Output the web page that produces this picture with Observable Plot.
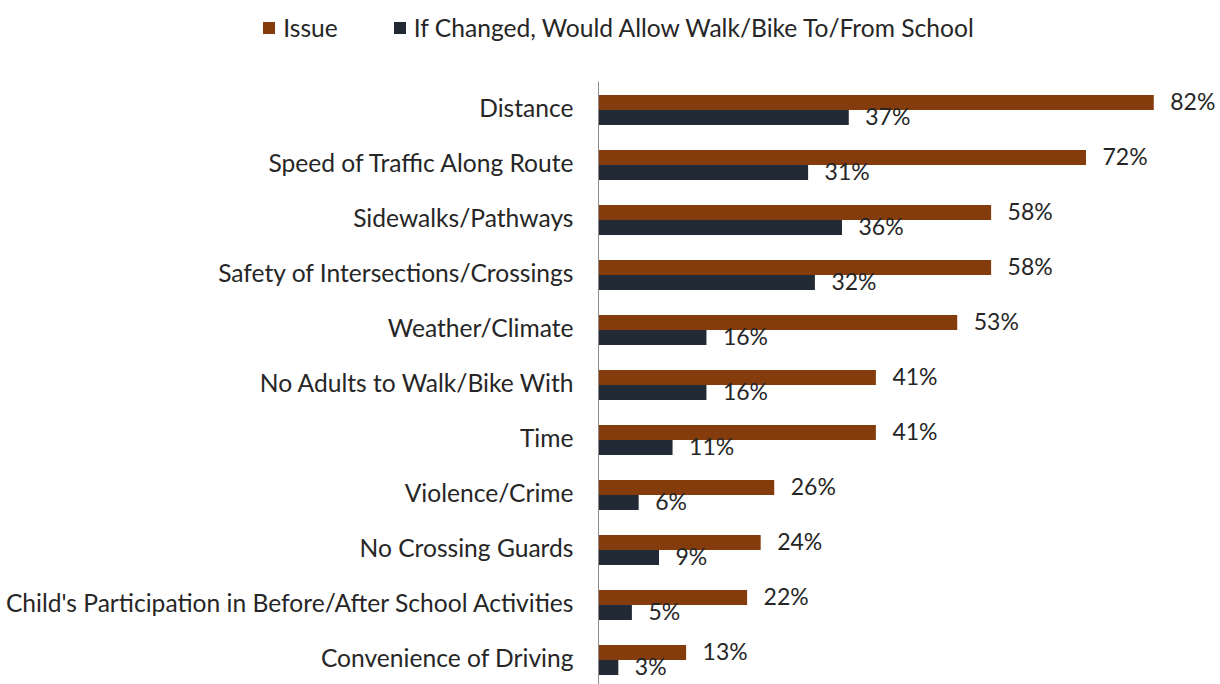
<!DOCTYPE html>
<html>
<head>
<meta charset="utf-8">
<script src="https://cdn.jsdelivr.net/npm/d3@7"></script>
<script src="https://cdn.jsdelivr.net/npm/@observablehq/plot@0.6"></script>
<style>
  html, body { margin: 0; padding: 0; background: #fff; overflow: hidden; }
  body { width: 1220px; height: 684px; font-family: Lato, "Liberation Sans", sans-serif; color: #262626; }
  #legend { height: 55px; display: flex; justify-content: center; align-items: center; font-size: 24.6px; padding-left: 17px; box-sizing: border-box; }
  .item { display: flex; align-items: center; margin: 0 28px; }
  .sw { width: 12px; height: 12px; margin-right: 8px; }
</style>
</head>
<body>
<div id="legend"></div>
<div id="chart"></div>
<script>
const categories = [
  "Distance",
  "Speed of Traffic Along Route",
  "Sidewalks/Pathways",
  "Safety of Intersections/Crossings",
  "Weather/Climate",
  "No Adults to Walk/Bike With",
  "Time",
  "Violence/Crime",
  "No Crossing Guards",
  "Child's Participation in Before/After School Activities",
  "Convenience of Driving"
];
const seriesNames = ["Issue", "If Changed, Would Allow Walk/Bike To/From School"];
const issueValues = [82, 72, 58, 58, 53, 41, 41, 26, 24, 22, 13];
const changedValues = [37, 31, 36, 32, 16, 16, 11, 6, 9, 5, 3];
const colors = ["#843C0C", "#222A35"];

const data = [];
categories.forEach((c, i) => {
  data.push({category: c, series: seriesNames[0], value: issueValues[i]});
  data.push({category: c, series: seriesNames[1], value: changedValues[i]});
});

// legend
const legend = document.getElementById("legend");
seriesNames.forEach((s, i) => {
  const it = document.createElement("div");
  it.className = "item";
  const sw = document.createElement("span");
  sw.className = "sw";
  sw.style.background = colors[i];
  it.appendChild(sw);
  const t = document.createElement("span");
  t.textContent = s;
  it.appendChild(t);
  legend.appendChild(it);
});

const chart = Plot.plot({
  width: 1220,
  height: 634,
  marginTop: 25,
  marginBottom: 0,
  marginLeft: 598,
  marginRight: 12,
  style: {fontFamily: "Lato, 'Liberation Sans', sans-serif", fontSize: "24px", color: "#262626", background: "#fff"},
  x: {domain: [0, 90], axis: null},
  y: {domain: seriesNames, axis: null, padding: 0},
  fy: {domain: categories, paddingInner: 0.44, paddingOuter: 0.22, label: null},
  color: {domain: seriesNames, range: colors},
  marks: [
    Plot.axisFy({anchor: "left", tickSize: 0, tickPadding: 25, label: null, fontSize: 24.6, dy: -1}),
    Plot.barX(data, {fy: "category", y: "series", x: "value", fill: "series"}),
    Plot.ruleX([0], {stroke: "#8c8c8c", strokeWidth: 1, insetTop: -12.5, insetBottom: -12.5}),
    Plot.text(data, {fy: "category", y: "series", x: "value", text: d => d.value + "%", textAnchor: "start", dx: 16, dy: 0, fill: "#262626", fontSize: 23})
  ]
});
document.getElementById("chart").appendChild(chart);
</script>
</body>
</html>
